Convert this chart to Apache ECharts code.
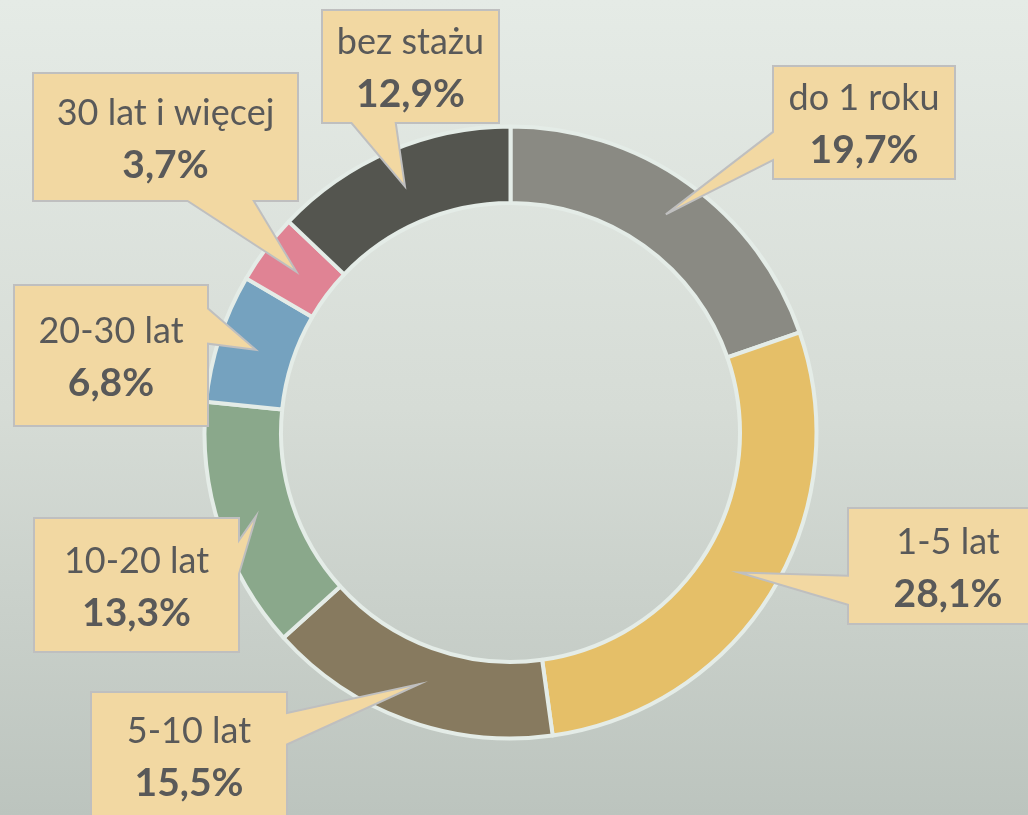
<!DOCTYPE html>
<html>
<head>
<meta charset="utf-8">
<script src="https://cdn.jsdelivr.net/npm/echarts@6/dist/echarts.min.js"></script>
<style>
  html, body { margin: 0; padding: 0; }
  body { background: linear-gradient(to bottom, #e5ebe6 0%, #d6dcd6 50%, #bcc4be 100%); }
  #chart { width: 1028px; height: 815px; }
</style>
</head>
<body>
<div id="chart"></div>
<script>
// staż pracy - udział procentowy
const categories = ['do 1 roku', '1-5 lat', '5-10 lat', '10-20 lat', '20-30 lat', '30 lat i więcej', 'bez stażu']
const shares = [19.7, 28.1, 15.5, 13.3, 6.8, 3.7, 12.9]
const sliceColors = ['#8a8a83', '#e5bf68', '#877a5f', '#8aa88b', '#75a2bf', '#e08394', '#54554f']

// callout boxes: [left, top, width, height]
const boxes = [
  [773, 66, 182, 113],
  [848, 508, 200, 116],
  [91, 692, 196, 126],
  [34, 518, 205, 134],
  [14, 285, 194, 141],
  [33, 73, 265, 128],
  [322, 10, 177, 113]
]

const textColor = '#595959'
const fontFamily = 'Lato, "Open Sans", sans-serif'

const chart = echarts.init(document.getElementById('chart'))

chart.setOption({
  backgroundColor: 'transparent',
  animation: false,
  series: [{
    type: 'pie',
    z: 2,
    silent: true,
    center: [510.5, 432.5],
    radius: [229.5, 306],
    startAngle: 90,
    clockwise: true,
    label: { show: false },
    labelLine: { show: false },
    itemStyle: {
      borderColor: '#e4ece7',
      borderWidth: 4
    },
    data: categories.map((name, i) => ({
      name: name,
      value: shares[i],
      itemStyle: { color: sliceColors[i] }
    }))
  }]
})

// Office-like wedge callout: base of wedge on the side facing the tip
function calloutPoints(b, tx, ty) {
  const [x, y, w, h] = b
  const dx = tx - (x + w / 2)
  const dy = ty - (y + h / 2)
  const vert = Math.abs(dy) > Math.abs(dx) * h / w
  let side, a, c
  if (vert) {
    side = dy < 0 ? 'top' : 'bottom'
    a = x + w * (dx < 0 ? 2 : 7) / 12
    c = x + w * (dx < 0 ? 5 : 10) / 12
  } else {
    side = dx < 0 ? 'left' : 'right'
    a = y + h * (dy < 0 ? 2 : 7) / 12
    c = y + h * (dy < 0 ? 5 : 10) / 12
  }
  const pts = [[x, y]]
  if (side === 'top') pts.push([a, y], [tx, ty], [c, y])
  pts.push([x + w, y])
  if (side === 'right') pts.push([x + w, a], [tx, ty], [x + w, c])
  pts.push([x + w, y + h])
  if (side === 'bottom') pts.push([c, y + h], [tx, ty], [a, y + h])
  pts.push([x, y + h])
  if (side === 'left') pts.push([x, c], [tx, ty], [x, a])
  return pts
}

function fmt(v) {
  return v.toFixed(1).replace('.', ',') + '%'
}

const data = chart.getModel().getSeriesByIndex(0).getData()
const graphics = []
categories.forEach((name, i) => {
  const lay = data.getItemLayout(i)
  const mid = (lay.startAngle + lay.endAngle) / 2
  const rm = (lay.r0 + lay.r) / 2
  const tx = lay.cx + rm * Math.cos(mid)
  const ty = lay.cy + rm * Math.sin(mid)
  const b = boxes[i]
  graphics.push({
    type: 'polygon',
    z: 10,
    silent: true,
    shape: { points: calloutPoints(b, tx, ty) },
    style: { fill: '#f2d8a2', stroke: '#bfbfbf', lineWidth: 2 }
  })
  graphics.push({
    type: 'text',
    z: 11,
    silent: true,
    x: b[0] + b[2] / 2,
    y: b[1] + b[3] / 2 + 2,
    style: {
      text: '{n|' + name + '}\n{v|' + fmt(shares[i]) + '}',
      align: 'center',
      verticalAlign: 'middle',
      rich: {
        n: { fontFamily: fontFamily, fontSize: 36, lineHeight: 52, fill: textColor, align: 'center' },
        v: { fontFamily: fontFamily, fontSize: 39, fontWeight: 'bold', lineHeight: 52, fill: textColor, align: 'center' }
      }
    }
  })
})

chart.setOption({ graphic: graphics })
</script>
</body>
</html>
